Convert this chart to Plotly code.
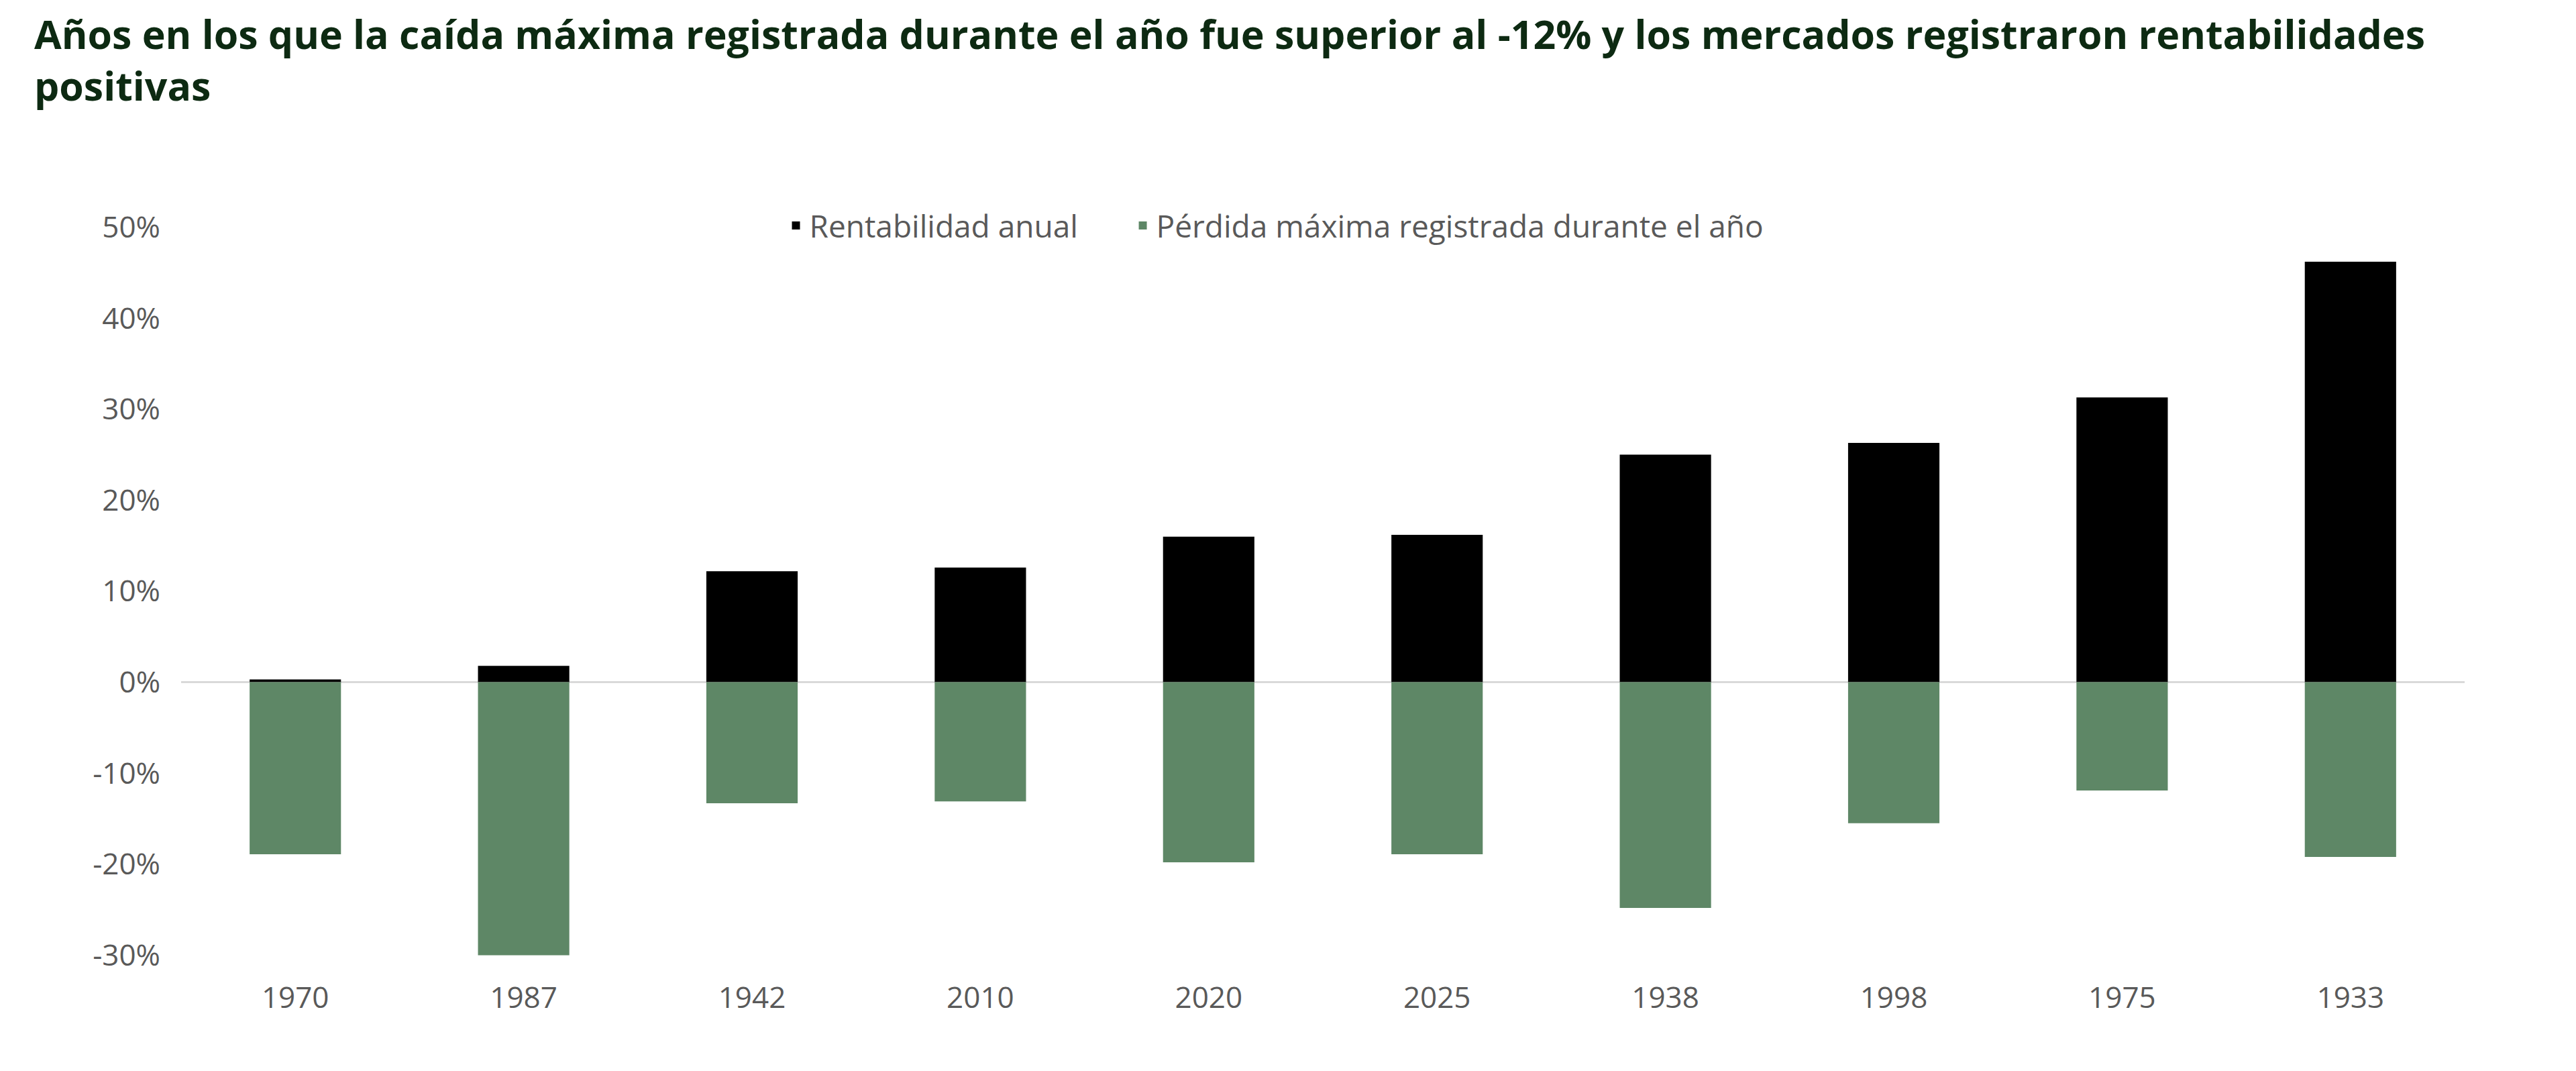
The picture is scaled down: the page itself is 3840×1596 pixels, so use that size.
import plotly.graph_objects as go

# Datos
anios = ["1970", "1987", "1942", "2010", "2020", "2025", "1938", "1998", "1975", "1933"]
rentabilidad = [0.3, 1.8, 12.2, 12.6, 16.0, 16.2, 25.0, 26.3, 31.3, 46.2]
perdida_max = [-18.9, -30.0, -13.3, -13.1, -19.8, -18.9, -24.8, -15.5, -11.9, -19.2]

titulo = ("<b>Años en los que la caída máxima registrada durante el año fue superior al -12% y los mercados registraron rentabilidades"
          "<br>positivas</b>")

fig = go.Figure()
fig.add_trace(go.Bar(x=anios, y=[v / 100 for v in rentabilidad], name="Rentabilidad anual      ",
                     marker=dict(color="#000000", line=dict(width=0)), width=0.4))
fig.add_trace(go.Bar(x=anios, y=[v / 100 for v in perdida_max], name="Pérdida máxima registrada durante el año",
                     marker=dict(color="#5e8766", line=dict(width=0)), width=0.4))

fig.add_annotation(text=titulo, xref="paper", yref="paper", x=-0.065, y=1.285,
                   xanchor="left", yanchor="top", showarrow=False, align="left",
                   font=dict(family="Open Sans", size=59, color="#0d2a12"))

fig.update_layout(
    barmode="overlay",
    width=3840, height=1596,
    paper_bgcolor="white", plot_bgcolor="white",
    font=dict(family="Open Sans", size=44, color="#595959"),
    margin=dict(l=262, r=174, t=317, b=167),
    legend=dict(orientation="h", x=0.479, xanchor="center", y=0.99, yanchor="middle",
                font=dict(size=46, color="#595959"), bgcolor="rgba(0,0,0,0)"),
    xaxis=dict(showgrid=False, showline=False, ticks="", ticklabelstandoff=20),
    yaxis=dict(range=[-0.31, 0.51], tickvals=[-0.3, -0.2, -0.1, 0, 0.1, 0.2, 0.3, 0.4, 0.5],
               ticktext=["-30%", "-20%", "-10%", "0%", "10%", "20%", "30%", "40%", "50%"],
               showgrid=False, zeroline=True, zerolinecolor="#d9d9d9", zerolinewidth=3,
               ticklabelstandoff=30),
)
fig.write_html("out.html")
